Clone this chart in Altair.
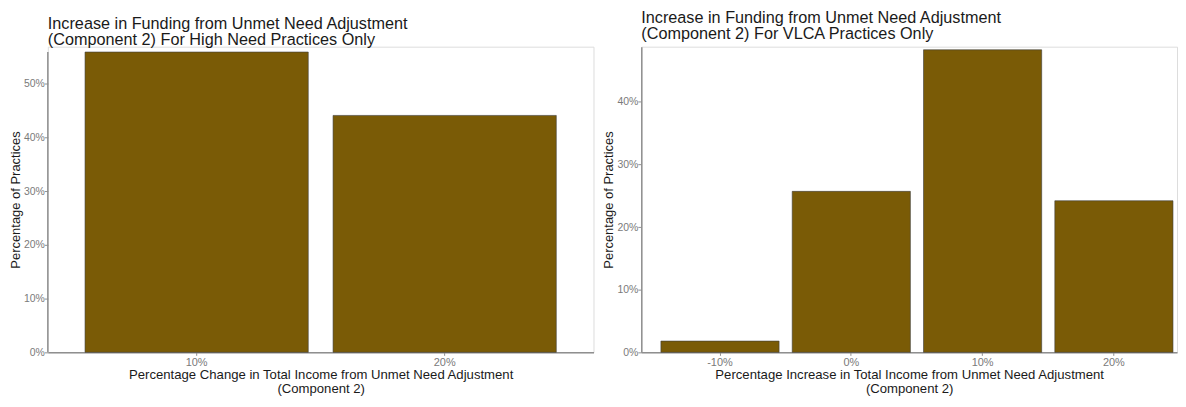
import altair as alt
import pandas as pd

# ---- data ----
left_cats = ["10%", "20%"]
left_vals = [55.9, 44.1]
left_ticks = [0, 10, 20, 30, 40, 50]

right_cats = ["-10%", "0%", "10%", "20%"]
right_vals = [1.8, 25.7, 48.3, 24.2]
right_ticks = [0, 10, 20, 30, 40]

left_title = ["Increase in Funding from Unmet Need Adjustment",
              "(Component 2) For High Need Practices Only"]
right_title = ["Increase in Funding from Unmet Need Adjustment",
               "(Component 2) For VLCA Practices Only"]
left_xtitle = ["Percentage Change in Total Income from Unmet Need Adjustment",
               "(Component 2)"]
right_xtitle = ["Percentage Increase in Total Income from Unmet Need Adjustment",
                "(Component 2)"]
ytitle = "Percentage of Practices"

FILL = "#7a5b06"
AXIS = "#8f8f8f"
LABEL = "#7a7a7a"
FONT = "Liberation Sans"
H = 307


def panel(cats, vals, ticks, title_lines, xtitle, ymax, width, title_offset,
          left_rule, p_outer, band_align):
    df = pd.DataFrame({"cat": cats, "pct": vals})
    base = alt.Chart(df)
    x_enc = alt.X(
        "cat:N", sort=cats,
        scale=alt.Scale(paddingInner=0.1, paddingOuter=p_outer, align=band_align),
        axis=alt.Axis(title=xtitle, labelAngle=0, labelFont=FONT, labelFontSize=11,
                      labelColor=LABEL, titleFont=FONT, titleFontSize=13.2,
                      titleFontWeight="normal", titleColor="#1a1a1a", titleLineHeight=14,
                      titlePadding=1, labelPadding=1, tickSize=3, tickColor=AXIS,
                      domainColor=AXIS, domainWidth=1.5, grid=False),
    )
    y_enc = alt.Y(
        "pct:Q",
        scale=alt.Scale(domain=[0, ymax], nice=False, zero=True),
        axis=alt.Axis(title=ytitle, values=ticks, labelExpr="datum.value + '%'",
                      labelFont=FONT, labelFontSize=10.5, labelColor=LABEL,
                      titleFont=FONT, titleFontSize=13, titleFontWeight="normal",
                      titleColor="#1a1a1a", titlePadding=1, labelPadding=0,
                      tickSize=3.5, tickColor=AXIS, domain=not left_rule,
                      domainColor=AXIS, domainWidth=1.5, grid=False),
    )
    bars = base.mark_bar(fill=FILL, stroke="#3c3c3c", strokeWidth=0.6).encode(x=x_enc, y=y_enc)
    layers = [bars]
    if left_rule:
        rule = base.mark_rule(color=AXIS, strokeWidth=1.5).encode(
            x=alt.value(0), y=alt.Y("max(pct):Q"), y2=alt.value(H)
        )
        layers.append(rule)
    return alt.layer(*layers).properties(
        width=width, height=H,
        title=alt.TitleParams(text=title_lines, anchor="start", frame="group",
                              font=FONT, fontSize=16.3, fontWeight="normal",
                              color="#1a1a1a", lineHeight=16.5, offset=title_offset),
    )


left = panel(left_cats, left_vals, left_ticks, left_title, left_xtitle,
             56.9, 548, -2, True, 0.15, 0.5)
right = panel(right_cats, right_vals, right_ticks, right_title, right_xtitle,
              48.8, 538, 4, False, 0.09, 0.83)

chart = alt.hconcat(left, right, spacing=7).properties(
    padding=0
).configure_view(stroke=None).configure(background="white")

chart.save("out.html", embed_options={"renderer": "svg", "actions": False})
